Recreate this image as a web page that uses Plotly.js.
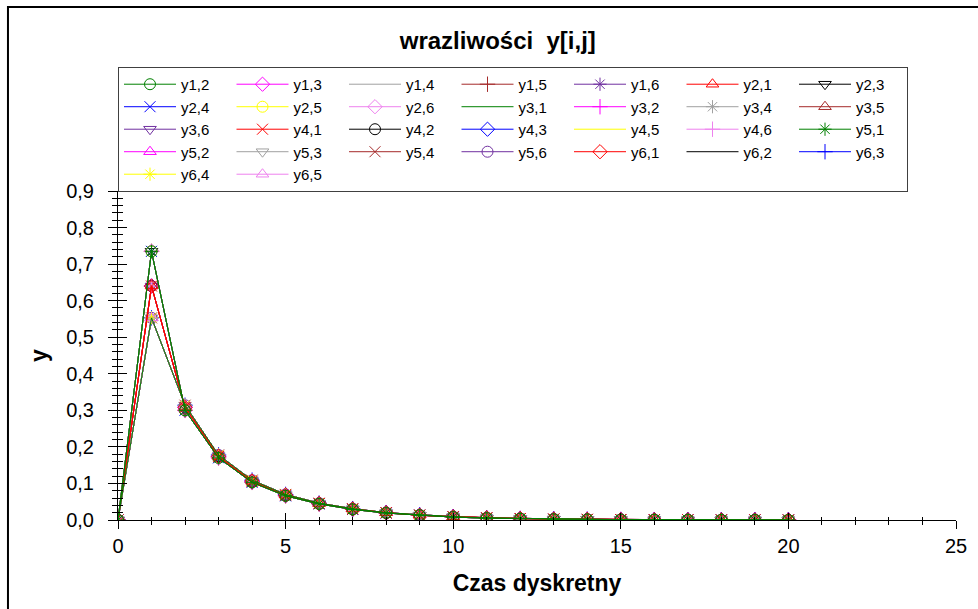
<!DOCTYPE html>
<html>
<head>
<meta charset="utf-8">
<script src="https://cdn.plot.ly/plotly-3.0.1.min.js"></script>
<style>html,body{margin:0;padding:0;background:#fff;}#chart{width:978px;height:609px;}</style>
</head>
<body>
<div id="chart"></div>
<script>
// ---- data ----
const time = [0,1,2,3,4,5,6,7,8,9,10,11,12,13,14,15,16,17,18,19,20];
const highPeak = [0, 0.735, 0.300, 0.170, 0.103, 0.066, 0.044, 0.029, 0.019, 0.013, 0.008, 0.005, 0.0035, 0.002, 0.0015, 0.001, 0.0007, 0.0005, 0.0003, 0.0002, 0.0001];
const midPeak  = [0, 0.640, 0.308, 0.174, 0.106, 0.068, 0.045, 0.030, 0.020, 0.013, 0.009, 0.006, 0.004, 0.0025, 0.0017, 0.0011, 0.0007, 0.0005, 0.0003, 0.0002, 0.0001];
const lowPeak  = [0, 0.553, 0.314, 0.178, 0.109, 0.070, 0.046, 0.031, 0.020, 0.014, 0.009, 0.006, 0.004, 0.0027, 0.0018, 0.0012, 0.0008, 0.0005, 0.0003, 0.0002, 0.0001];
const seriesNames = ['y1,2','y1,3','y1,4','y1,5','y1,6','y2,1','y2,3',
                     'y2,4','y2,5','y2,6','y3,1','y3,2','y3,4','y3,5',
                     'y3,6','y4,1','y4,2','y4,3','y4,5','y4,6','y5,1',
                     'y5,2','y5,3','y5,4','y5,6','y6,1','y6,2','y6,3',
                     'y6,4','y6,5'];
const seriesProfile = ['high','high','high','high','high','mid','high',
                       'high','high','high','low','mid','mid','low',
                       'mid','mid','mid','mid','mid','mid','high',
                       'low','low','low','low','mid','low','low',
                       'low','low'];
const profiles = {high: highPeak, mid: midPeak, low: lowPeak};

// ---- styles ----
const colorCycle = ['#008000','#ff00ff','#a0a0a0','#a52a2a','#7030a0','#ff0000','#000000','#0000ff','#ffff00','#ee82ee'];
const symbolCycle = ['circle-open','diamond-open',null,'cross-thin-open','asterisk-open','triangle-up-open','triangle-down-open','x-thin-open'];
const drawLast = ['y2,1','y4,1','y6,1','y1,2','y5,1','y3,1'];

const FONT = 'Liberation Sans, Arial, sans-serif';

const traces = seriesNames.map((name, i) => {
  const sym = symbolCycle[i % symbolCycle.length];
  const col = colorCycle[i % colorCycle.length];
  const t = {
    type: 'scatter',
    x: time,
    y: profiles[seriesProfile[i]],
    name: name,
    legendrank: i + 1,
    mode: sym ? 'lines+markers' : 'lines',
    line: {color: col, width: 1},
    hoverinfo: 'x+y+name'
  };
  if (sym) t.marker = {symbol: sym, size: 11, color: col, line: {color: col, width: 1}};
  return t;
});
const order = traces.filter(t => !drawLast.includes(t.name))
  .concat(drawLast.map(n => traces.find(t => t.name === n)));
order.push({type:'scatter', x:[], y:[], xaxis:'x2', yaxis:'y2', showlegend:false, hoverinfo:'skip'});

const layout = {
  width: 978, height: 609,
  margin: {l: 118, r: 22, t: 191, b: 89, pad: 0},
  paper_bgcolor: '#fff', plot_bgcolor: '#fff',
  separators: ', ',
  font: {family: FONT, color: '#000', size: 20},
  title: {text: 'wrazliwości\u00a0\u00a0y[i,j]', font: {family: FONT, size: 24, weight: 'bold', color: '#000'},
          xref: 'container', x: 0.509, xanchor: 'center', yref: 'container', y: 0.933, yanchor: 'middle'},
  showlegend: true,
  legend: {
    orientation: 'h', x: 0, xanchor: 'left', y: 1.377, yanchor: 'top',
    bgcolor: '#fff', bordercolor: '#404040', borderwidth: 1,
    font: {family: FONT, size: 15, color: '#000'},
    entrywidth: 45.5, entrywidthmode: 'pixels', itemwidth: 52,
    traceorder: 'normal'
  },
  xaxis: {
    range: [0, 25], tick0: 0, dtick: 5, ticks: 'outside', ticklen: 8, tickwidth: 1, tickcolor: '#000',
    showline: true, linecolor: '#000', linewidth: 1, showgrid: false, zeroline: false,
    minor: {dtick: 1, tick0: 0, ticks: 'outside', ticklen: 4, tickwidth: 1, tickcolor: '#000', showgrid: false},
    tickfont: {family: FONT, size: 20, color: '#000'},
    title: {text: 'Czas dyskretny', font: {family: FONT, size: 23, weight: 'bold', color: '#000'}, standoff: 18},
    fixedrange: true
  },
  yaxis: {
    range: [0, 0.9], tick0: 0, dtick: 0.1, tickformat: '.1f', ticks: 'outside', ticklen: 9, tickwidth: 1, tickcolor: '#000',
    showline: true, linecolor: '#000', linewidth: 1, showgrid: false, zeroline: false,
    minor: {dtick: 0.02, tick0: 0, ticks: 'outside', ticklen: 5, tickwidth: 1, tickcolor: '#000', showgrid: false},
    tickfont: {family: FONT, size: 20, color: '#000'}, ticklabelstandoff: 10,
    title: {text: 'y', font: {family: FONT, size: 23, weight: 'bold', color: '#000'}, standoff: 12},
    fixedrange: true
  },
  xaxis2: {
    overlaying: 'x', anchor: 'y2', side: 'bottom', range: [0, 25], tick0: 0, dtick: 5,
    ticks: 'inside', ticklen: 7, tickwidth: 1, tickcolor: '#000', showticklabels: false,
    showline: false, showgrid: false, zeroline: false,
    minor: {dtick: 1, tick0: 0, ticks: 'inside', ticklen: 3, tickwidth: 1, tickcolor: '#000', showgrid: false},
    fixedrange: true
  },
  yaxis2: {
    overlaying: 'y', anchor: 'x2', side: 'left', range: [0, 0.9], tick0: 0, dtick: 0.1,
    ticks: 'inside', ticklen: 9, tickwidth: 1, tickcolor: '#000', showticklabels: false,
    showline: false, showgrid: false, zeroline: false,
    minor: {dtick: 0.02, tick0: 0, ticks: 'inside', ticklen: 5, tickwidth: 1, tickcolor: '#000', showgrid: false},
    fixedrange: true
  },
  shapes: [{
    type: 'rect', xref: 'paper', yref: 'paper',
    x0: -0.1313, x1: 1.05, y0: -0.3, y1: 1.559,
    line: {color: '#000', width: 2}, fillcolor: 'rgba(0,0,0,0)', layer: 'below'
  }]
};

Plotly.newPlot('chart', order, layout, {displayModeBar: false});
</script>
</body>
</html>
